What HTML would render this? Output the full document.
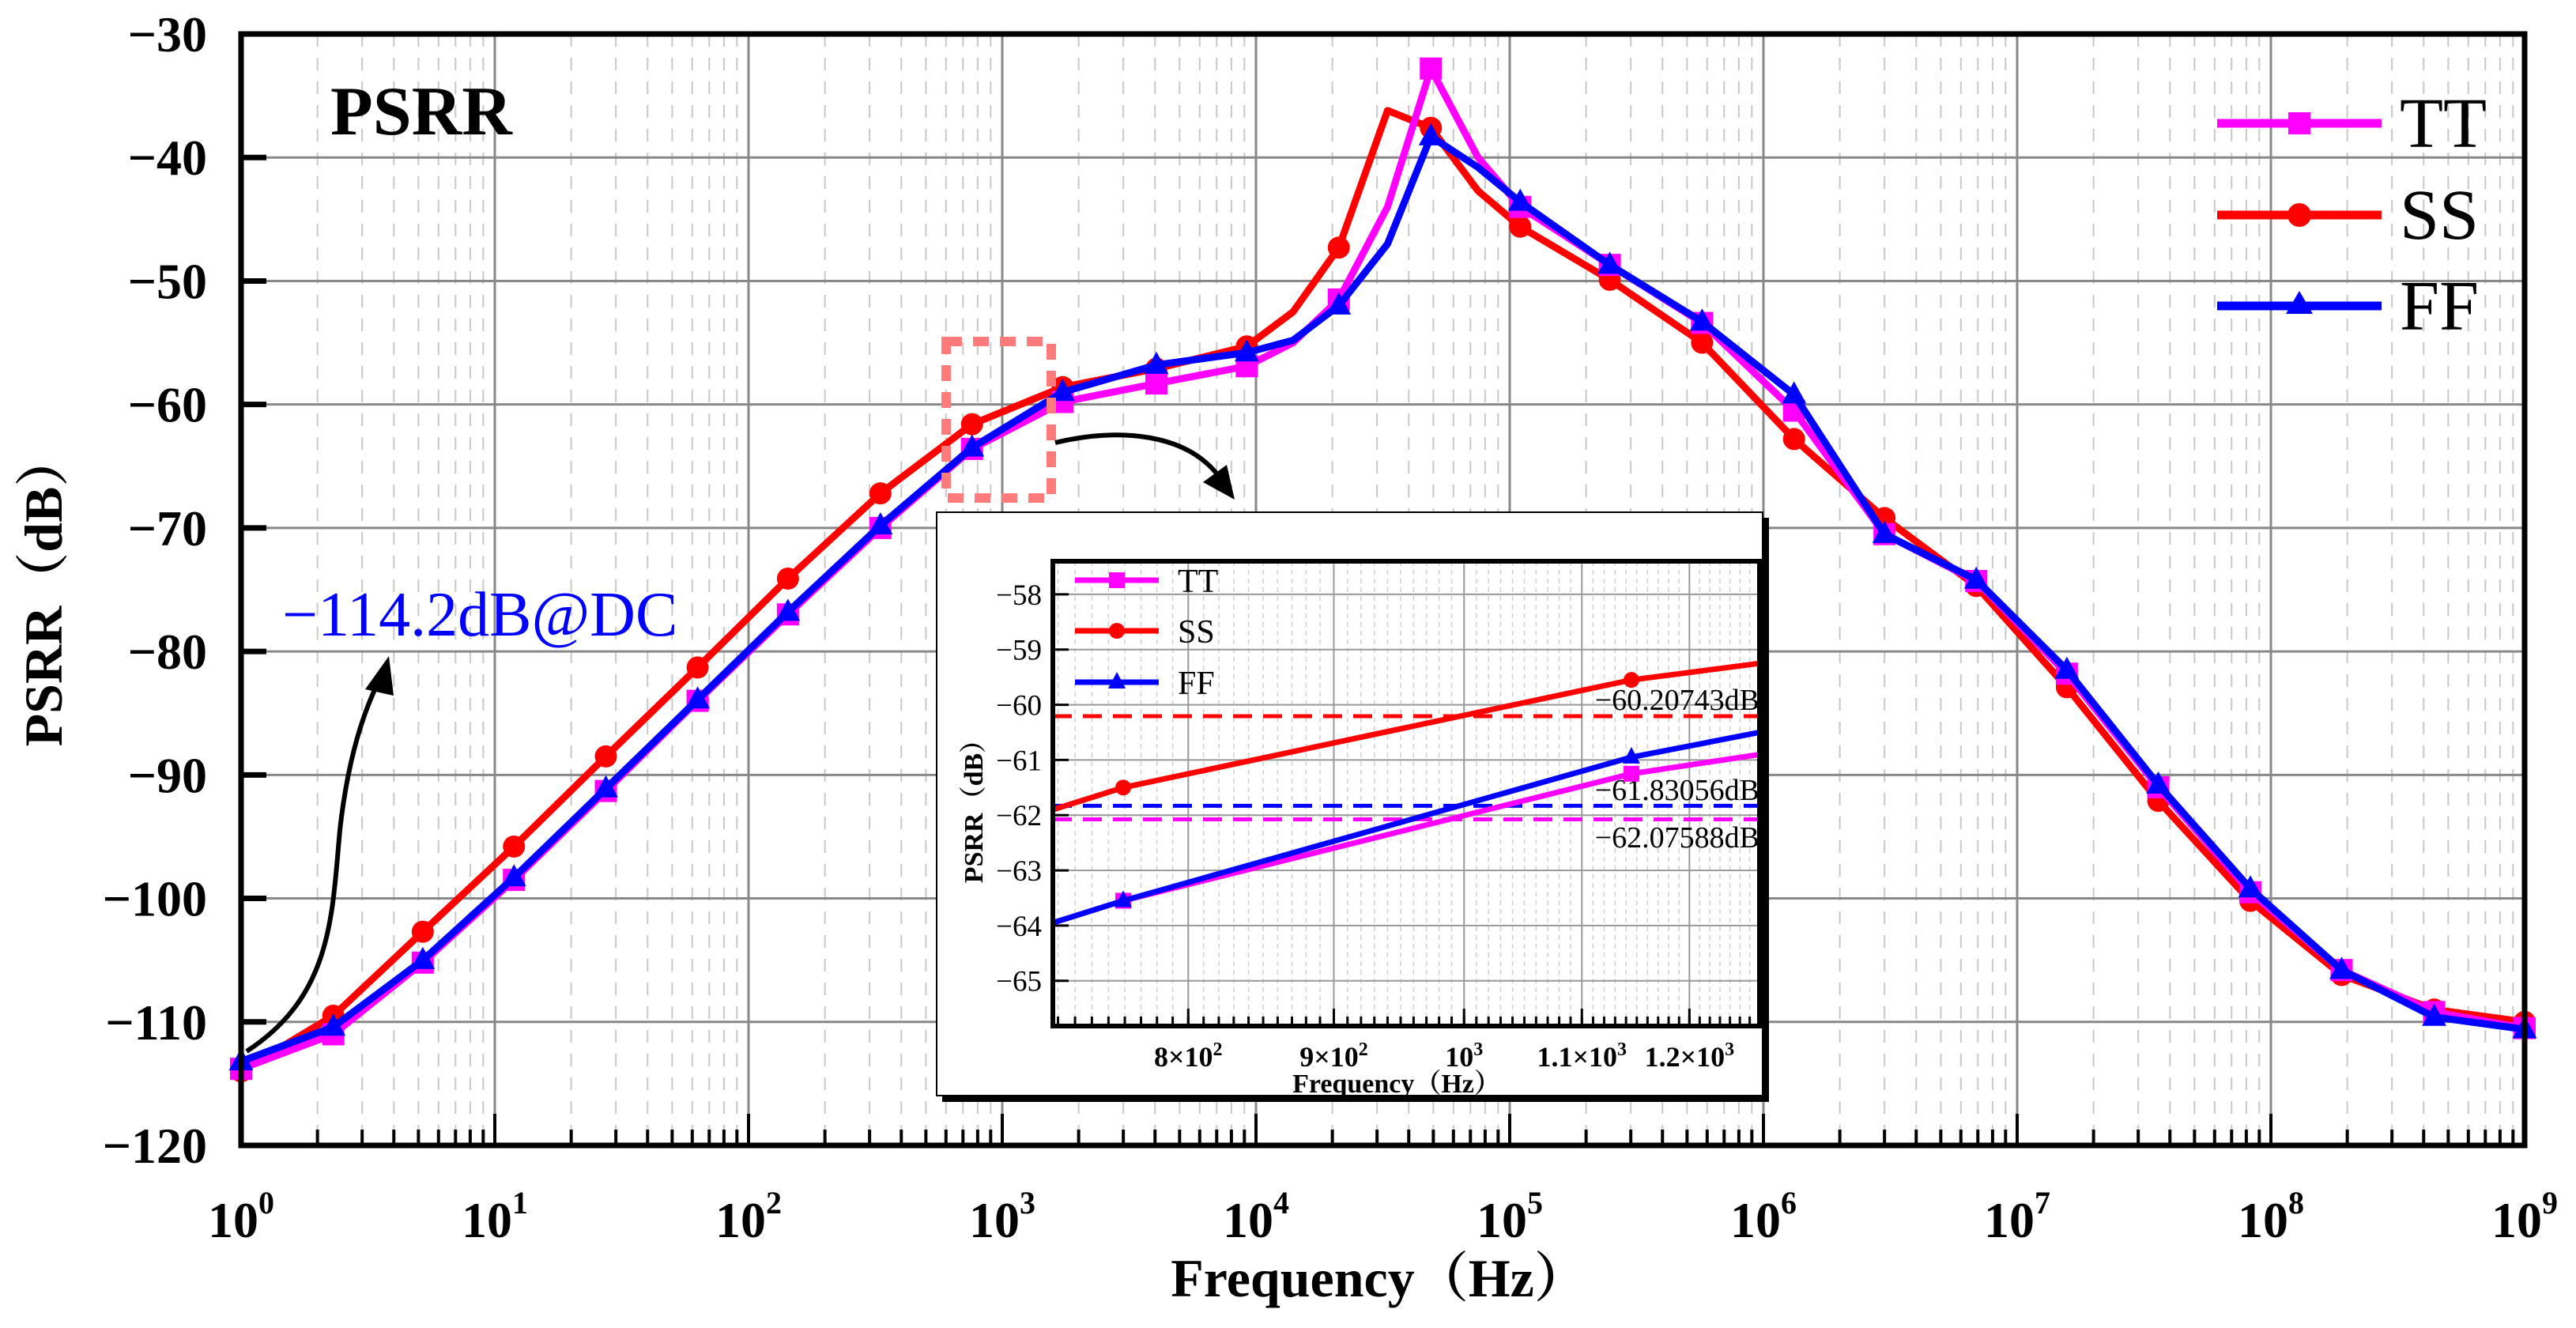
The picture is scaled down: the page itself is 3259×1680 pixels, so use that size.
<!DOCTYPE html>
<html><head><meta charset="utf-8"><style>
html,body{margin:0;padding:0;background:#fff;}
svg{display:block;font-family:"Liberation Serif","Noto Serif CJK SC",serif;}
</style></head><body>
<svg id="chart" xmlns="http://www.w3.org/2000/svg" width="3259" height="1680" viewBox="0 0 3259 1680">
<rect x="0" y="0" width="3259" height="1680" fill="#fff"/>
<g id="grid"></g><g id="series"></g><g id="axes"></g><g id="annot"></g><g id="inset"></g>
</svg>
<script>
// ---------- main chart data ----------
const freqs = [1,2.31,5.2,11.9,27.4,63,143,331,760,1730,4050,9200,14000,21200,33000,48900,75000,110000,248000,573000,1320000,3000000,6900000,15700000,36000000,83000000,190000000,440000000,1000000000];
const ttValues = [-113.8,-111,-105.2,-98.5,-91.3,-84,-77,-70,-63.6,-59.8,-58.3,-56.9,-55,-51.5,-44,-32.8,-40,-44,-48.7,-53.4,-60.5,-70.5,-74.3,-81.8,-91,-99.5,-105.8,-109.2,-110.5];
const ssValues = [-114,-109.5,-102.7,-95.8,-88.5,-81.3,-74.1,-67.2,-61.6,-58.6,-57.1,-55.3,-52.5,-47.3,-36.2,-37.6,-42.7,-45.6,-49.9,-55,-62.8,-69.2,-74.7,-82.9,-92.1,-100.2,-106.2,-109,-110];
const ffValues = [-113.2,-110.4,-105,-98.3,-91.1,-83.9,-76.8,-69.8,-63.5,-59,-56.8,-55.8,-54.8,-52,-47,-38.3,-40.8,-43.6,-48.7,-53.3,-59.2,-70.5,-74.2,-81.5,-90.8,-99.2,-105.8,-109.6,-110.6];
const markerFreqs = [1,2.31,5.2,11.9,27.4,63,143,331,760,1730,4050,9200,21200,48900,110000,248000,573000,1320000,3000000,6900000,15700000,36000000,83000000,190000000,440000000,1000000000];
const yTicks = [-30,-40,-50,-60,-70,-80,-90,-100,-110,-120];
const xTickExps = [0,1,2,3,4,5,6,7,8,9];
const seriesNames = ["TT","SS","FF"];
// ---------- inset data ----------
const insetFreqs = [717,759,1145,1270];
const insetTT = [-63.95,-63.55,-61.25,-60.9];
const insetSS = [-61.9,-61.5,-59.55,-59.25];
const insetFF = [-63.95,-63.55,-60.95,-60.5];
const insetMarkerFreqs = [759,1145];
const refLevels = [-60.20743,-61.83056,-62.07588];
const refLabels = ["\u221260.20743dB","\u221261.83056dB","\u221262.07588dB"];
const insetYTicks = [-58,-59,-60,-61,-62,-63,-64,-65];
const insetXTicks = [800,900,1000,1100,1200];
const insetXLabels = ["8×10<tspan dy='-14' font-size='24'>2</tspan>","9×10<tspan dy='-14' font-size='24'>2</tspan>","10<tspan dy='-14' font-size='24'>3</tspan>","1.1×10<tspan dy='-14' font-size='24'>3</tspan>","1.2×10<tspan dy='-14' font-size='24'>3</tspan>"];

const NS="http://www.w3.org/2000/svg";
function mk(tag,attrs,parent){const e=document.createElementNS(NS,tag);for(const k in attrs)e.setAttribute(k,attrs[k]);parent.appendChild(e);return e;}
const colors=["#ff00ff","#ff0000","#0000ff"];

const L=305,R=3194,T=43,B=1449;
const xMin=0,xMax=9,yMin=-120,yMax=-30;
const xs=f=>L+(Math.log10(f)-xMin)/(xMax-xMin)*(R-L);
const ys=v=>B-(v-yMin)/(yMax-yMin)*(B-T);
const grid=document.getElementById('grid');
for(let d=0;d<9;d++){for(let m=2;m<=9;m++){const x=xs(m*Math.pow(10,d));
 const l=mk('line',{x1:x,x2:x,y1:T,y2:B,stroke:'#c8c8c8','stroke-width':2,'stroke-dasharray':'16 14'},grid);
 
 }}
for(let v=-115;v>-30;v+=10){const y=ys(v);
 const l=mk('line',{x1:L,x2:R,y1:y,y2:y,stroke:'#c8c8c8','stroke-width':2,'stroke-dasharray':'10 8'},grid);
 
 }
xTickExps.forEach(e=>{const x=xs(Math.pow(10,e));
 const l=mk('line',{x1:x,x2:x,y1:T,y2:B,stroke:'#888','stroke-width':3},grid);
 
 });
yTicks.forEach(v=>{const y=ys(v);
 const l=mk('line',{x1:L,x2:R,y1:y,y2:y,stroke:'#888','stroke-width':3},grid);
 
 });

const ser=document.getElementById('series');
const allVals=[ttValues,ssValues,ffValues];
function marker(g,type,x,y,c,s){
 let e;
 if(type===0)e=mk('rect',{x:x-s/2,y:y-s/2,width:s,height:s,fill:c},g);
 else if(type===1)e=mk('circle',{cx:x,cy:y,r:s/2,fill:c},g);
 else e=mk('polygon',{points:`${x},${y-s*0.6} ${x-s*0.55},${y+s*0.4} ${x+s*0.55},${y+s*0.4}`,fill:c},g);
 return e;}
[1,0,2].forEach(i=>{
 const g=mk('g',{},ser);
 
 
 const pts=freqs.map((f,k)=>xs(f)+','+ys(allVals[i][k])).join(' ');
 const pl=mk('polyline',{points:pts,fill:'none',stroke:colors[i],'stroke-width':9,'stroke-linejoin':'round'},g);
 
 
 freqs.forEach((f,k)=>{if(markerFreqs.indexOf(f)<0)return;
  const m=marker(g,i,xs(f),ys(allVals[i][k]),colors[i],28);
  
  });
});

const ax=document.getElementById('axes');
const frame=mk('rect',{x:L,y:T,width:R-L,height:B-T,fill:'none',stroke:'#000','stroke-width':7},ax);


for(let d=0;d<9;d++){for(let m=2;m<=9;m++){const x=xs(m*Math.pow(10,d));
 const t=mk('line',{x1:x,x2:x,y1:B,y2:B-20,stroke:'#000','stroke-width':4},ax);
 
 }}
for(let v=-115;v>-30;v+=10){const y=ys(v);
 const t=mk('line',{x1:L,x2:L+20,y1:y,y2:y,stroke:'#000','stroke-width':6},ax);
 
 }
yTicks.forEach(v=>{const y=ys(v);
 const t=mk('line',{x1:L,x2:L+32,y1:y,y2:y,stroke:'#000','stroke-width':7},ax);
 
 
 const tx=mk('text',{x:262,y:y+22,'text-anchor':'end','font-size':64,'font-weight':'bold'},ax);
 tx.textContent='\u2212'+Math.abs(v);
 
 });
xTickExps.forEach(e=>{const x=xs(Math.pow(10,e));
 const t=mk('line',{x1:x,x2:x,y1:B,y2:B-40,stroke:'#000','stroke-width':4},ax);
 
 
 const tx=mk('text',{x:x,y:1565,'text-anchor':'middle','font-size':64,'font-weight':'bold'},ax);
 tx.innerHTML='10<tspan dy="-30" font-size="40">'+e+'</tspan>';
 
 });
</script>
<script>
(function(){
const an=document.getElementById('annot');
an.innerHTML=`
<text x="1745" y="1640" text-anchor="middle" font-size="68" font-weight="bold">Frequency（Hz）</text>
<text transform="translate(78,746) rotate(-90)" text-anchor="middle" font-size="68" font-weight="bold">PSRR（dB）</text>
<text x="418" y="170" font-size="88" font-weight="bold">PSRR</text>
<text x="357" y="804" font-size="80" fill="#0000ff">−114.2dB@DC</text>
<path d="M312,1330 C420,1260 420,1160 430,1050 C440,960 460,900 480,860" fill="none" stroke="#000" stroke-width="6"/>
<polygon points="492,830 462,872 498,880" fill="#000"/>
<path d="M1335,560 C1420,540 1500,550 1540,600" fill="none" stroke="#000" stroke-width="6"/>
<polygon points="1562,632 1522,610 1552,588" fill="#000"/>
<rect x="1197" y="432" width="133" height="198" fill="none" stroke="#ff7a7a" stroke-width="12" stroke-dasharray="20 14"/>
<g>
 <g><line x1="2805" x2="3013" y1="156" y2="156" stroke="#ff00ff" stroke-width="11"/><rect x="2895" y="142" width="28" height="28" fill="#ff00ff"/><text x="3036" y="186" font-size="90">TT</text></g>
 <g><line x1="2805" x2="3013" y1="272" y2="272" stroke="#ff0000" stroke-width="11"/><circle cx="2909" cy="272" r="15" fill="#ff0000"/><text x="3036" y="302" font-size="90">SS</text></g>
 <g><line x1="2805" x2="3013" y1="387" y2="387" stroke="#0000ff" stroke-width="11"/><polygon points="2909,368 2892,397 2926,397" fill="#0000ff"/><text x="3036" y="417" font-size="90">FF</text></g>
</g>`;
})();
</script>
<script>
(function(){
const NS="http://www.w3.org/2000/svg";
function mk(tag,attrs,parent){const e=document.createElementNS(NS,tag);for(const k in attrs)e.setAttribute(k,attrs[k]);parent.appendChild(e);return e;}
const g=document.getElementById('inset');


mk('rect',{x:1192,y:655,width:1046,height:739,fill:'#000'},g);
mk('rect',{x:1185,y:648,width:1045,height:738,fill:'#fff',stroke:'#000','stroke-width':2},g);
const L=1332,R=2226,T=710,B=1298,yMin=-65.82,yMax=-57.4,fMin=717,fMax=1270;
const xs=f=>L+(Math.log10(f)-Math.log10(fMin))/(Math.log10(fMax)-Math.log10(fMin))*(R-L);
const ys=v=>B-(v-yMin)/(yMax-yMin)*(B-T);
for(let f=720;f<=1270;f+=10){const x=xs(f);
 const l=mk('line',{x1:x,x2:x,y1:T,y2:B,stroke:'#d0d0d0','stroke-width':1.5,'stroke-dasharray':'6 5'},g);
 
 
 mk('line',{x1:x,x2:x,y1:B,y2:B-12,stroke:'#000','stroke-width':3},g);}
for(let v=-65.5;v>-57.4;v+=1){const y=ys(v);
 const l=mk('line',{x1:L,x2:R,y1:y,y2:y,stroke:'#d0d0d0','stroke-width':1.5,'stroke-dasharray':'6 5'},g);
 
 
 mk('line',{x1:L,x2:L+12,y1:y,y2:y,stroke:'#000','stroke-width':3},g);}
insetXTicks.forEach((f,i)=>{const x=xs(f);
 const l=mk('line',{x1:x,x2:x,y1:T,y2:B,stroke:'#999','stroke-width':2},g);
 
 
 mk('line',{x1:x,x2:x,y1:B,y2:B-22,stroke:'#000','stroke-width':3},g);
 const t=mk('text',{x:x,y:1349,'text-anchor':'middle','font-size':36,'font-weight':'bold'},g);
 t.innerHTML=insetXLabels[i];
 
 });
insetYTicks.forEach(v=>{const y=ys(v);
 const l=mk('line',{x1:L,x2:R,y1:y,y2:y,stroke:'#999','stroke-width':2},g);
 
 
 mk('line',{x1:L,x2:L+20,y1:y,y2:y,stroke:'#000','stroke-width':3},g);
 const t=mk('text',{x:1318,y:y+13,'text-anchor':'end','font-size':37},g);
 t.textContent='\u2212'+Math.abs(v);
 
 });
const cols=['#ff0000','#0000ff','#ff00ff'];
refLevels.forEach((v,i)=>{const y=ys(v);
 const l=mk('line',{x1:L,x2:R,y1:y,y2:y,stroke:cols[i],'stroke-width':5,'stroke-dasharray':'24 14'},g);
 
 
 const t=mk('text',{x:R,y:[898,1012,1072][i],'text-anchor':'end','font-size':38},g);
 t.textContent=refLabels[i];
 
 });
const vals=[insetSS,insetFF,insetTT],c2=['#ff0000','#0000ff','#ff00ff'],nm=['ss','ff','tt'],typ=[1,2,0];
[2,1,0].forEach(i=>{
 const pts=insetFreqs.map((f,k)=>xs(f)+','+ys(vals[i][k])).join(' ');
 const pl=mk('polyline',{points:pts,fill:'none',stroke:c2[i],'stroke-width':7},g);
 
 
 insetFreqs.forEach((f,k)=>{if(insetMarkerFreqs.indexOf(f)<0)return;
  const x=xs(f),y=ys(vals[i][k]),s=20;let m;
  if(typ[i]===0)m=mk('rect',{x:x-s/2,y:y-s/2,width:s,height:s,fill:c2[i]},g);
  else if(typ[i]===1)m=mk('circle',{cx:x,cy:y,r:s/2,fill:c2[i]},g);
  else m=mk('polygon',{points:`${x},${y-13} ${x-11},${y+8} ${x+11},${y+8}`,fill:c2[i]},g);
  
  });
});
const fr=mk('rect',{x:L,y:T,width:R-L,height:B-T,fill:'none',stroke:'#000','stroke-width':6},g);


const extra=document.createElementNS(NS,'g');g.appendChild(extra);
extra.innerHTML=`
<text x="1767" y="1382" text-anchor="middle" font-size="34" font-weight="bold">Frequency（Hz）</text>
<text transform="translate(1243,1018) rotate(-90)" text-anchor="middle" font-size="34" font-weight="bold">PSRR（dB）</text>
<g>
<g><line x1="1360" x2="1466" y1="734" y2="734" stroke="#ff00ff" stroke-width="7"/><rect x="1403" y="724" width="20" height="20" fill="#ff00ff"/><text x="1490" y="749" font-size="42">TT</text></g>
<g><line x1="1360" x2="1466" y1="798" y2="798" stroke="#ff0000" stroke-width="7"/><circle cx="1413" cy="798" r="10" fill="#ff0000"/><text x="1490" y="813" font-size="42">SS</text></g>
<g><line x1="1360" x2="1466" y1="863" y2="863" stroke="#0000ff" stroke-width="7"/><polygon points="1413,850 1402,871 1424,871" fill="#0000ff"/><text x="1490" y="878" font-size="42">FF</text></g>
</g>`;
})();
</script>
</body></html>
